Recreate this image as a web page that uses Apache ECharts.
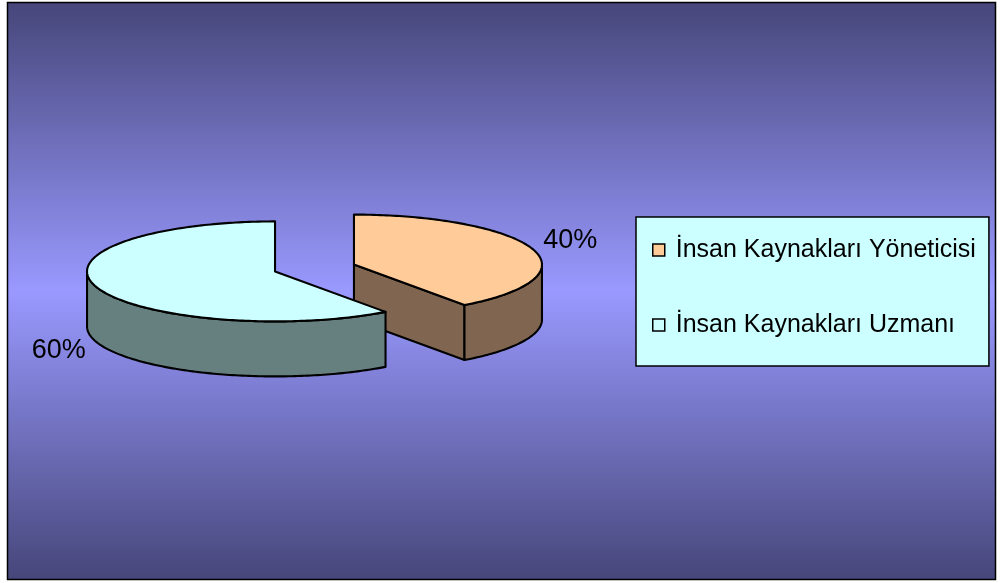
<!DOCTYPE html>
<html><head><meta charset="utf-8">
<script src="https://cdn.jsdelivr.net/npm/echarts@6/dist/echarts.min.js"></script>
<style>html,body{margin:0;padding:0;background:#fff}#c{width:1000px;height:583px}</style>
</head><body><div id="c"></div>
<script>
const categories = ['İnsan Kaynakları Yöneticisi', 'İnsan Kaynakları Uzmanı'];
const values = [40, 60];
const topColors = ['#ffcc99', '#ccffff'];
const sideColors = ['#806650', '#668080'];

const total = values.reduce((a, b) => a + b, 0);
const starts = [];
let acc = 0;
values.forEach(v => { starts.push(acc); acc += v; });

const G = { cx: 314.5, cy: 268, rx: 188, ry: 50, depth: 55, explode: 41.5 };
const FONT = '"Liberation Sans", Arial, sans-serif';

function makeRender(idx) {
  return function (params, api) {
    const s = api.value(0), v = api.value(1);
    const a0 = s / total * 2 * Math.PI, a1 = (s + v) / total * 2 * Math.PI;
    const mid = (a0 + a1) / 2;
    const k = G.ry / G.rx;
    const cx = G.cx + G.explode * Math.sin(mid);
    const cy = G.cy - G.explode * Math.cos(mid) * k;
    const D = G.depth;
    const P = (a, dz) => [cx + G.rx * Math.sin(a), cy - G.ry * Math.cos(a) + (dz || 0)];
    const arc = (b0, b1, dz) => {
      const pts = [];
      const n = Math.max(2, Math.ceil(Math.abs(b1 - b0) / (Math.PI / 180)));
      for (let i = 0; i <= n; i++) pts.push(P(b0 + (b1 - b0) * i / n, dz));
      return pts;
    };
    const stroke = { stroke: '#000', lineWidth: 2.1, lineJoin: 'round' };
    const children = [];
    if (Math.sin(a0) < -1e-6) {
      children.push({ type: 'polygon', shape: { points: [[cx, cy], P(a0), P(a0, D), [cx, cy + D]] },
        style: Object.assign({ fill: sideColors[idx] }, stroke) });
    }
    if (Math.sin(a1) > 1e-6) {
      children.push({ type: 'polygon', shape: { points: [[cx, cy], P(a1), P(a1, D), [cx, cy + D]] },
        style: Object.assign({ fill: sideColors[idx] }, stroke) });
    }
    const b0 = Math.max(a0, Math.PI / 2), b1 = Math.min(a1, 1.5 * Math.PI);
    if (b1 > b0) {
      children.push({ type: 'polygon', shape: { points: arc(b0, b1, 0).concat(arc(b1, b0, D)) },
        style: Object.assign({ fill: sideColors[idx] }, stroke) });
    }
    children.push({ type: 'polygon', shape: { points: [[cx, cy]].concat(arc(a0, a1, 0)) },
      style: Object.assign({ fill: topColors[idx] }, stroke) });
    const lr = 1.21;
    const lx = cx + G.rx * lr * Math.sin(mid);
    let ly = cy - G.ry * lr * Math.cos(mid);
    if (Math.cos(mid) < 0) ly += D * 1.1; else ly -= 5;
    children.push({ type: 'text', style: {
      text: Math.round(v / total * 100) + '%', x: lx, y: ly,
      align: 'center', verticalAlign: 'middle', fill: '#000',
      fontSize: 27, fontFamily: FONT } });
    return { type: 'group', children };
  };
}

const chart = echarts.init(document.getElementById('c'), null, { renderer: 'canvas' });
chart.setOption({
  animation: false,
  backgroundColor: '#ffffff',
  graphic: [{
    type: 'rect', z: -10, silent: true,
    shape: { x: 7.5, y: 2.5, width: 988, height: 577 },
    style: {
      fill: new echarts.graphic.LinearGradient(0, 0, 0, 1, [
        { offset: 0, color: '#46467a' },
        { offset: 0.5, color: '#9999ff' },
        { offset: 1, color: '#46467a' }
      ]),
      stroke: '#000', lineWidth: 1.5
    }
  }],
  legend: {
    orient: 'vertical', left: 636, top: 217,
    data: categories,
    icon: 'rect', itemWidth: 12, itemHeight: 12,
    itemGap: 45,
    backgroundColor: '#ccffff', borderColor: '#000', borderWidth: 1.5,
    padding: [18, 13, 26, 16],
    itemStyle: { borderColor: '#000', borderWidth: 1.5 },
    textStyle: { fontSize: 25, fontFamily: FONT, color: '#000', lineHeight: 30, padding: [0, 0, 0, 6] },
    selectedMode: false
  },
  series: categories.map((name, i) => ({
    type: 'custom', name, coordinateSystem: 'none',
    renderItem: makeRender(i),
    data: [[starts[i], values[i]]],
    itemStyle: { color: topColors[i] },
    z: 2 + i, silent: true
  }))
});
</script></body></html>
